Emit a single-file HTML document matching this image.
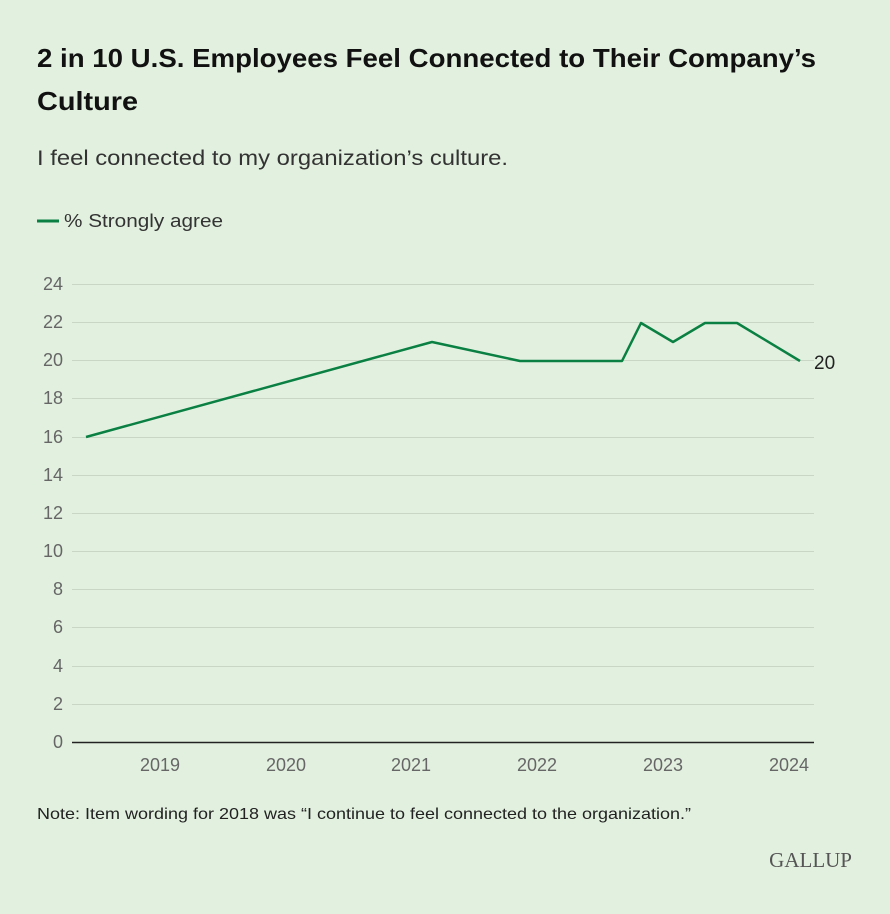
<!DOCTYPE html>
<html><head><meta charset="utf-8"><style>
body{margin:0;background:#e2f1df;width:890px;height:909px;overflow:hidden;font-family:"Liberation Sans",sans-serif}
</style></head><body>
<svg width="890" height="909" xmlns="http://www.w3.org/2000/svg" font-family="Liberation Sans, sans-serif">
<rect width="890" height="909" fill="#e2f1df"/>
<text x="37" y="67" font-size="26" font-weight="bold" fill="#111" textLength="779" lengthAdjust="spacingAndGlyphs">2 in 10 U.S. Employees Feel Connected to Their Company’s</text>
<text x="37" y="110" font-size="26" font-weight="bold" fill="#111" textLength="101" lengthAdjust="spacingAndGlyphs">Culture</text>
<text x="37" y="165" font-size="21" fill="#333" textLength="471" lengthAdjust="spacingAndGlyphs">I feel connected to my organization’s culture.</text>
<line x1="37" y1="221" x2="59" y2="221" stroke="#0a8043" stroke-width="3"/>
<text x="64" y="227" font-size="18" fill="#333" textLength="159" lengthAdjust="spacingAndGlyphs">% Strongly agree</text>
<g stroke="#c9d6c6" stroke-width="1">
<line x1="72" x2="814" y1="284.5" y2="284.5"/><line x1="72" x2="814" y1="322.5" y2="322.5"/>
<line x1="72" x2="814" y1="360.5" y2="360.5"/><line x1="72" x2="814" y1="398.5" y2="398.5"/>
<line x1="72" x2="814" y1="437.5" y2="437.5"/><line x1="72" x2="814" y1="475.5" y2="475.5"/>
<line x1="72" x2="814" y1="513.5" y2="513.5"/><line x1="72" x2="814" y1="551.5" y2="551.5"/>
<line x1="72" x2="814" y1="589.5" y2="589.5"/><line x1="72" x2="814" y1="627.5" y2="627.5"/>
<line x1="72" x2="814" y1="666.5" y2="666.5"/><line x1="72" x2="814" y1="704.5" y2="704.5"/>
</g>
<line x1="72" x2="814" y1="742.5" y2="742.5" stroke="#222" stroke-width="1.5"/>
<g font-size="18" fill="#666" text-anchor="end">
<text x="63" y="290">24</text><text x="63" y="328">22</text><text x="63" y="366">20</text>
<text x="63" y="404">18</text><text x="63" y="443">16</text><text x="63" y="481">14</text>
<text x="63" y="519">12</text><text x="63" y="557">10</text><text x="63" y="595">8</text>
<text x="63" y="633">6</text><text x="63" y="672">4</text><text x="63" y="710">2</text>
<text x="63" y="748">0</text>
</g>
<g font-size="18" fill="#666" text-anchor="middle">
<text x="160" y="771">2019</text><text x="286" y="771">2020</text><text x="411" y="771">2021</text>
<text x="537" y="771">2022</text><text x="663" y="771">2023</text><text x="789" y="771">2024</text>
</g>
<polyline fill="none" stroke="#0a8043" stroke-width="2.5" stroke-linejoin="round" points="86,437 432,342 520,361 622,361 641,323 673,342 705,323 737,323 800,361"/>
<text x="814" y="369" font-size="19" fill="#222">20</text>
<text x="37" y="819" font-size="16" fill="#222" textLength="654" lengthAdjust="spacingAndGlyphs">Note: Item wording for 2018 was “I continue to feel connected to the organization.”</text>
<text x="852" y="867" font-size="21" fill="#555" text-anchor="end" font-family="Liberation Serif, serif">GALLUP</text>
</svg>
</body></html>
